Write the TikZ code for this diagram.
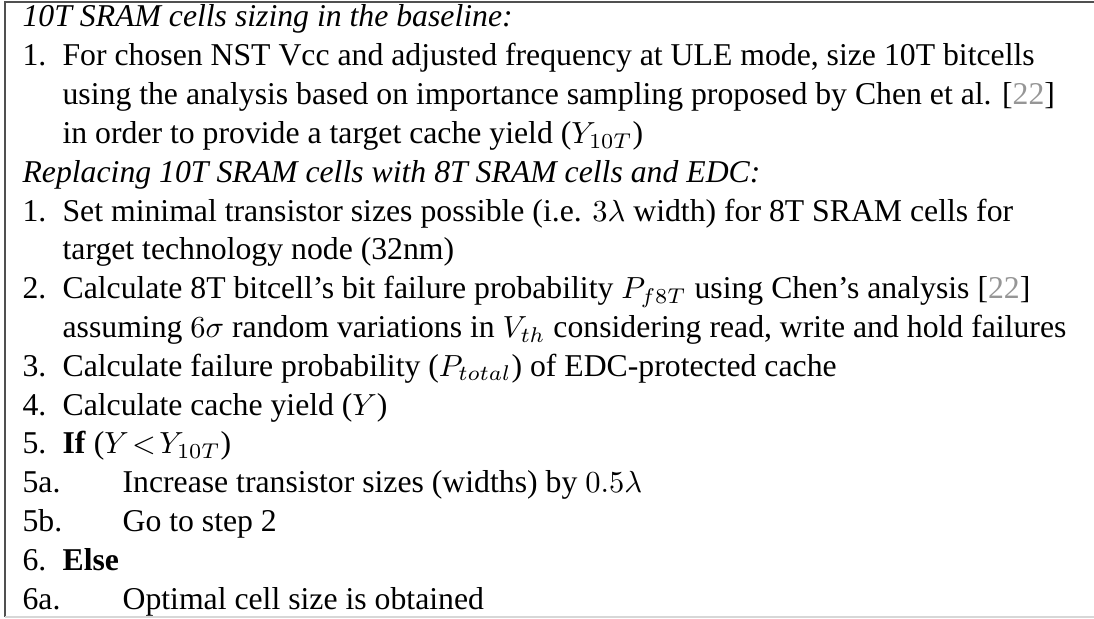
\documentclass[tikz,border=0pt]{standalone}
\usepackage{fontspec}
\setmainfont{Liberation Serif}
\usepackage{amsmath}
\usepackage{tikz}
\usetikzlibrary{positioning}
\definecolor{citegray}{RGB}{150,150,150}
\definecolor{framegray}{RGB}{80,80,80}
\definecolor{rulegray}{RGB}{215,215,215}
\tikzset{
  stepline/.style={anchor=base west, inner sep=0pt, font=\fontsize{10.4}{12.5}\selectfont},
  headline/.style={stepline, font=\fontsize{10.4}{12.5}\selectfont\itshape},
  frameline/.style={draw=framegray, line width=0.6pt},
  bottomline/.style={draw=rulegray, line width=0.6pt}
}
\newcommand{\refnum}[1]{[\textcolor{citegray}{#1}]}

\begin{document}
\begin{tikzpicture}
  \useasboundingbox (0,0) rectangle (12.6,-7.129);
  % --- FRAME ---
  \draw[frameline] (12.6,-0.023) -- (0.058,-0.023) -- (0.058,-7.106);
  \draw[bottomline] (0.058,-7.106) -- (12.6,-7.106);

  % --- 10T BASELINE ---
  \node[headline] (h1) at (0.253,-0.311) {10T SRAM cells sizing in the baseline:};
  \node[stepline] (n1) at (0.253,-0.758) {1.};
  \node[stepline] (t1) at (0.714,-0.758) {For chosen NST Vcc and adjusted frequency at ULE mode, size 10T bitcells};
  \node[stepline] (t1b) at (0.714,-1.205) {using the analysis based on importance sampling proposed by Chen et al. \refnum{22}};
  \node[stepline] (t1c) at (0.714,-1.652) {in order to provide a target cache yield ($Y_{10T}$)};

  % --- 8T WITH EDC ---
  \node[headline] (h2) at (0.253,-2.099) {Replacing 10T SRAM cells with 8T SRAM cells and EDC:};
  \node[stepline] (n2) at (0.253,-2.546) {1.};
  \node[stepline] (t2) at (0.714,-2.546) {Set minimal transistor sizes possible (i.e. $3\lambda$ width) for 8T SRAM cells for};
  \node[stepline] (t2b) at (0.714,-2.993) {target technology node (32nm)};
  \node[stepline] (n3) at (0.253,-3.440) {2.};
  \node[stepline] (t3) at (0.714,-3.440) {Calculate 8T bitcell's bit failure probability $P_{f8T}$ using Chen's analysis \refnum{22}};
  \node[stepline] (t3b) at (0.714,-3.887) {assuming $6\sigma$ random variations in $V_{th}$ considering read, write and hold failures};
  \node[stepline] (n4) at (0.253,-4.334) {3.};
  \node[stepline] (t4) at (0.714,-4.334) {Calculate failure probability ($P_{total}$) of EDC-protected cache};
  \node[stepline] (n5) at (0.253,-4.781) {4.};
  \node[stepline] (t5) at (0.714,-4.781) {Calculate cache yield ($Y$)};
  \node[stepline] (n6) at (0.253,-5.228) {5.};
  \node[stepline] (t6) at (0.714,-5.228) {\textbf{If} ($Y\!<\!Y_{10T}$)};
  \node[stepline] (n6a) at (0.253,-5.675) {5a.};
  \node[stepline] (t6a) at (1.405,-5.675) {Increase transistor sizes (widths) by $0.5\lambda$};
  \node[stepline] (n6b) at (0.253,-6.122) {5b.};
  \node[stepline] (t6b) at (1.405,-6.122) {Go to step 2};
  \node[stepline] (n7) at (0.253,-6.569) {6.};
  \node[stepline] (t7) at (0.714,-6.569) {\textbf{Else}};
  \node[stepline] (n7a) at (0.253,-7.016) {6a.};
  \node[stepline] (t7a) at (1.405,-7.016) {Optimal cell size is obtained};
\end{tikzpicture}
\end{document}
